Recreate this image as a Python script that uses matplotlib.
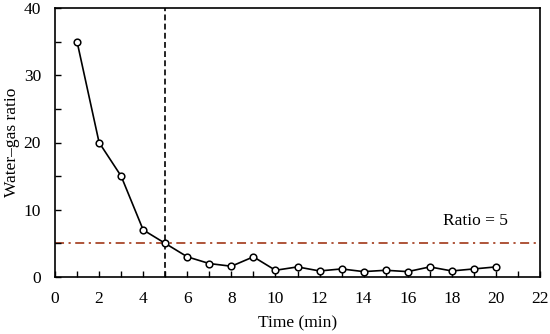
import matplotlib
matplotlib.use("Agg")
import matplotlib.pyplot as plt
from matplotlib.ticker import MultipleLocator

plt.rcParams['font.family'] = ['Liberation Serif', 'DejaVu Serif']

time_min = [1, 2, 3, 4, 5, 6, 7, 8, 9, 10, 11, 12, 13, 14, 15, 16, 17, 18, 19, 20]
ratio = [35, 20, 15, 7, 5, 3, 2, 1.6, 3, 1, 1.5, 0.9, 1.2, 0.8, 1.0, 0.8, 1.5, 0.9, 1.2, 1.5]
threshold = 5
cut_time = 5

fig = plt.figure(figsize=(5.5, 3.34), dpi=100)
ax = fig.add_axes([55/550, 1-277/334, 485/550, 269/334])

ax.axhline(threshold, color='#a8472a', linestyle=(0, (5, 2.5, 1.2, 2.5)), linewidth=1.3, zorder=1)
ax.axvline(cut_time, color='black', linestyle=(0, (3.5, 2)), linewidth=1.2, zorder=1)
ax.plot(time_min, ratio, color='black', linewidth=1.2, marker='o', markersize=4.8,
        markerfacecolor='white', markeredgecolor='black', markeredgewidth=1.1, zorder=3)

ax.text(19.05, 7.2, 'Ratio = 5', fontsize=12.5, ha='center', va='bottom')

ax.set_xlim(0, 22)
ax.set_ylim(0, 40)
ax.xaxis.set_major_locator(MultipleLocator(2))
ax.xaxis.set_minor_locator(MultipleLocator(1))
ax.yaxis.set_major_locator(MultipleLocator(10))
ax.yaxis.set_minor_locator(MultipleLocator(5))
ax.tick_params(which='both', direction='in', labelsize=12.5, width=1)
ax.tick_params(which='major', length=4, pad=10)
ax.tick_params(which='minor', length=4)
for s in ax.spines.values():
    s.set_linewidth(1.2)
ax.set_xlabel('Time (min)', fontsize=12.5, labelpad=6)
ax.set_ylabel('Water\u2013gas ratio', fontsize=12.5, labelpad=3)

fig.savefig('out.png', dpi=100)
